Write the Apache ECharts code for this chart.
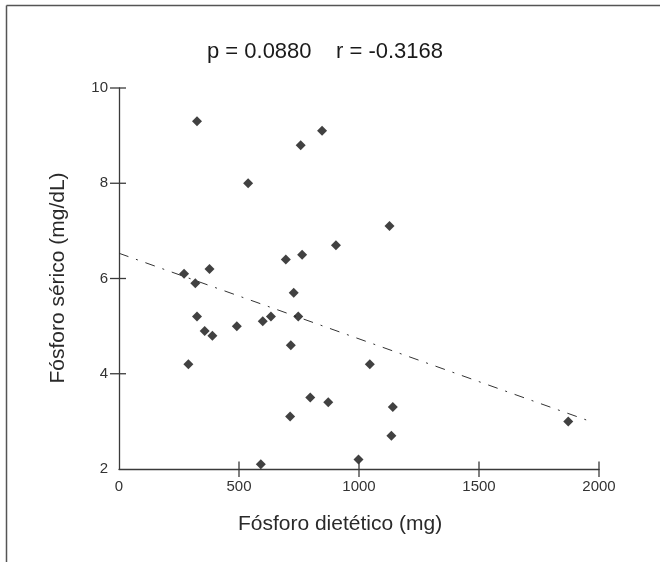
<!DOCTYPE html>
<html>
<head>
<meta charset="utf-8">
<script src="https://cdn.jsdelivr.net/npm/echarts@6/dist/echarts.min.js"></script>
<style>
html,body{margin:0;padding:0;background:#fff;}
#chart{width:660px;height:562px;}
</style>
</head>
<body>
<div id="chart"></div>
<script>
// Data
var dietaryP = [325, 757, 846, 538, 904, 763, 695, 377, 271, 318, 325, 357, 389, 491, 599, 633, 728, 747, 716, 289, 797, 872, 713, 591, 998, 1045, 1141, 1135, 1872, 1127];
var serumP   = [9.3, 8.8, 9.1, 8.0, 6.7, 6.5, 6.4, 6.2, 6.1, 5.9, 5.2, 4.9, 4.8, 5.0, 5.1, 5.2, 5.7, 5.2, 4.6, 4.2, 3.5, 3.4, 3.1, 2.1, 2.2, 4.2, 3.3, 2.7, 3.0, 7.1];
var fitX = [0, 1975];
var fitY = [6.53, 2.98];
var xTicks = [0, 500, 1000, 1500, 2000];
var yTicks = [2, 4, 6, 8, 10];
var titleText = 'p = 0.0880    r = -0.3168';
var xTitle = 'Fósforo dietético (mg)';
var yTitle = 'Fósforo sérico (mg/dL)';

var points = dietaryP.map(function (x, i) { return [x, serumP[i]]; });
var fitLine = fitX.map(function (x, i) { return [x, fitY[i]]; });
var X_MIN = xTicks[0], X_MAX = xTicks[xTicks.length - 1];
var Y_MIN = yTicks[0], Y_MAX = yTicks[yTicks.length - 1];
// crossing tick marks (skip the origin), drawn through the axis scales
var tickData = xTicks.slice(1).map(function (v) { return ['x', v]; })
  .concat(yTicks.slice(1).map(function (v) { return ['y', v]; }));

var FONT = '"Liberation Sans", Arial, sans-serif';
var AX = '#3a3a3a';
var plain = function (v) { return String(v); };

var chart = echarts.init(document.getElementById('chart'), null, {renderer: 'canvas'});
chart.setOption({
  animation: false,
  backgroundColor: '#fff',
  grid: {left: 119, right: 61, top: 88, bottom: 93, containLabel: false},
  xAxis: {
    type: 'value', min: X_MIN, max: X_MAX, interval: 500,
    axisLine: {show: true, onZero: false, lineStyle: {color: AX, width: 1.3}},
    axisTick: {show: false},
    axisLabel: {show: true, margin: 10, color: '#333', fontSize: 15, fontFamily: FONT, formatter: plain},
    splitLine: {show: false}
  },
  yAxis: {
    type: 'value', min: Y_MIN, max: Y_MAX, interval: 2,
    axisLine: {show: true, onZero: false, lineStyle: {color: AX, width: 1.3}},
    axisTick: {show: false},
    axisLabel: {show: true, margin: 11, color: '#333', fontSize: 15, fontFamily: FONT, formatter: plain},
    splitLine: {show: false}
  },
  series: [
    {
      type: 'custom',
      data: tickData,
      clip: false,
      silent: true,
      z: 4,
      encode: {x: -1, y: -1},
      renderItem: function (params, api) {
        var kind = tickData[params.dataIndex][0];
        var v = tickData[params.dataIndex][1];
        var p, shape;
        if (kind === 'x') {
          p = api.coord([v, Y_MIN]);
          shape = {x1: p[0], y1: p[1] - 7.5, x2: p[0], y2: p[1] + 8};
        } else {
          p = api.coord([X_MIN, v]);
          shape = {x1: p[0] - 9, y1: p[1], x2: p[0] + 7, y2: p[1]};
        }
        return {type: 'line', shape: shape, style: {stroke: AX, lineWidth: 1.3}};
      }
    },
    {
      type: 'line',
      data: fitLine,
      showSymbol: false,
      symbol: 'none',
      lineStyle: {color: '#333', width: 1, type: [10, 8, 2, 8]},
      silent: true,
      z: 2
    },
    {
      type: 'scatter',
      data: points,
      symbol: 'diamond',
      symbolSize: 10,
      itemStyle: {color: '#111'},
      z: 3
    }
  ],
  graphic: [
    {type: 'line', shape: {x1: 6.5, y1: 5.5, x2: 6.5, y2: 562}, style: {stroke: '#555', lineWidth: 1.5}},
    {type: 'line', shape: {x1: 6.5, y1: 5.5, x2: 660, y2: 5.5}, style: {stroke: '#555', lineWidth: 1.5}},
    {type: 'text', x: 325, y: 52, style: {text: titleText, fill: '#1a1a1a', font: '22px ' + FONT, textAlign: 'center', textVerticalAlign: 'middle'}},
    {type: 'text', x: 340, y: 524, style: {text: xTitle, fill: '#2a2a2a', font: '21px ' + FONT, textAlign: 'center', textVerticalAlign: 'middle'}},
    {type: 'text', x: 58, y: 278, rotation: Math.PI / 2, style: {text: yTitle, fill: '#2a2a2a', font: '21px ' + FONT, textAlign: 'center', textVerticalAlign: 'middle'}}
  ]
});
</script>
</body>
</html>
